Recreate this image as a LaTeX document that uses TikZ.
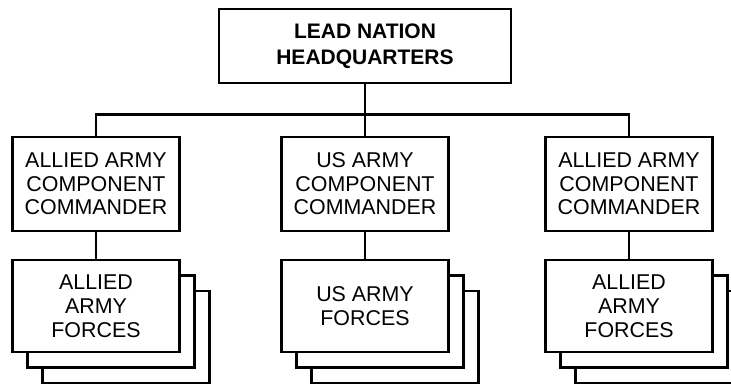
\documentclass[tikz,border=0pt]{standalone}
\usepackage{fontspec}
\setmainfont{Liberation Sans}
\usetikzlibrary{positioning,shadows}

\begin{document}
\begin{tikzpicture}[node distance=25.6pt, line width=1.4pt,
  every node/.style={align=center},
  hqbox/.style={draw,fill=white,inner sep=0pt,minimum width=146pt,minimum height=37pt,
    font=\bfseries\fontsize{10.5}{13}\selectfont},
  cmdbox/.style={draw,fill=white,inner sep=0pt,minimum width=83.5pt,minimum height=47pt,
    font=\fontsize{10.7}{11.75}\selectfont},
  forcebox/.style={draw,fill=white,inner sep=0pt,minimum width=83.5pt,minimum height=46pt,
    font=\fontsize{10.7}{12}\selectfont,
    copy shadow={shadow xshift=15pt,shadow yshift=-15.5pt,line width=1.4pt},
    copy shadow={shadow xshift=7.5pt,shadow yshift=-7.75pt,line width=1.4pt}}]
\useasboundingbox (0,0) rectangle (365.5pt,-193pt);
\node[hqbox] (HQ) at (182.5pt,-23pt) {LEAD NATION\\HEADQUARTERS};
\node[cmdbox,below=25.6pt of HQ] (US) {US ARMY\\COMPONENT\\COMMANDER};
\node[cmdbox,left=49.6pt of US] (AL) {ALLIED ARMY\\COMPONENT\\COMMANDER};
\node[cmdbox,right=47.1pt of US] (AR) {ALLIED ARMY\\COMPONENT\\COMMANDER};
\node[forcebox,below=13.1pt of AL] (ALF) {ALLIED\\ARMY\\FORCES};
\node[forcebox,below=13.1pt of US] (USF) {US ARMY\\FORCES};
\node[forcebox,below=13.1pt of AR] (ARF) {ALLIED\\ARMY\\FORCES};
\coordinate (bar) at ([yshift=-15pt]HQ.south);
\draw (HQ.south) -- (US.north);
\draw (AL.north) |- (bar) -| (AR.north);
\draw (AL) -- (ALF);
\draw (US) -- (USF);
\draw (AR) -- (ARF);
\end{tikzpicture}
\end{document}
